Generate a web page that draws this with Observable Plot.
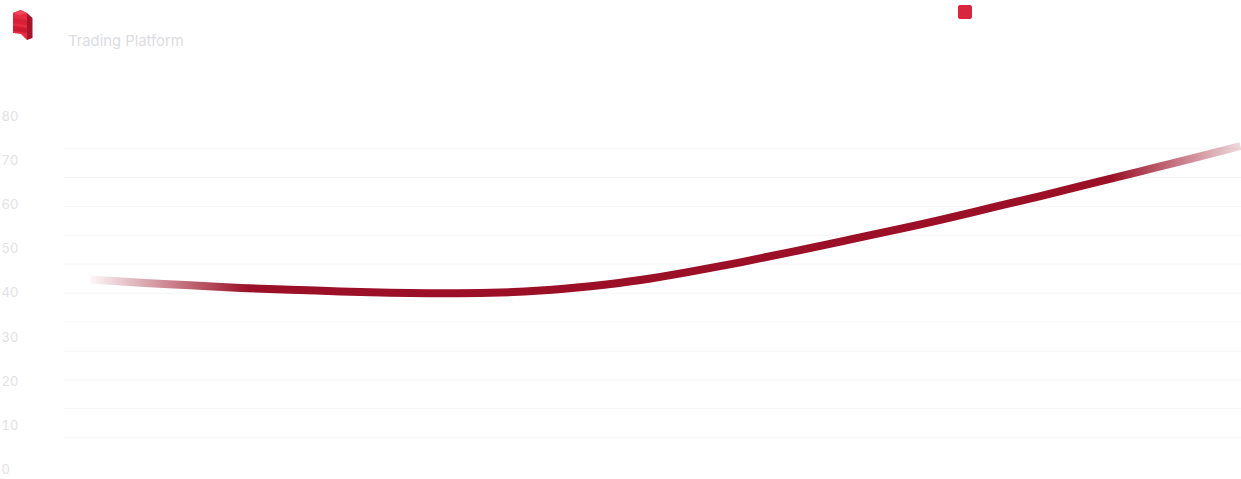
<!DOCTYPE html>
<html>
<head>
<meta charset="utf-8">
<script src="https://cdn.jsdelivr.net/npm/d3@7"></script>
<script src="https://cdn.jsdelivr.net/npm/@observablehq/plot@0.6"></script>
<style>
  html, body { margin: 0; padding: 0; background: #fff; overflow: hidden; }
  #wrap { position: relative; width: 1241px; height: 479px; font-family: Inter, "Noto Sans", sans-serif; }
  #logo { position: absolute; left: 12px; top: 9px; }
  #title { position: absolute; left: 68px; top: 32px; font-size: 14.8px; color: #dcdce2; }
  #legend { position: absolute; left: 958px; top: 5px; width: 14px; height: 14px; border-radius: 2px; background: #d7263d; }
  #chart { position: absolute; left: 0; top: 0; }
</style>
</head>
<body>
<div id="wrap">
  <div id="chart"></div>
  <svg id="logo" width="24" height="34" viewBox="0 0 24 34">
    <polygon points="1,4 8.5,1 15,4 15,31 9,25 1,24" fill="#e62a40"/>
    <polygon points="1,9 15,11 15,16 1,14" fill="#d71f36"/>
    <polygon points="1,17 15,19 15,24 1,22" fill="#cc1a31"/>
    <polygon points="15,4 20.5,9 20.5,29 15,31" fill="#a9132a"/>
    <polygon points="1,4 8.5,1 15,4 8,6.5" fill="#f0455a"/>
  </svg>
  <div id="title">Trading Platform</div>
  <div id="legend"></div>
</div>
<script>
// Data
const steps  = [0,1,2,3,4,5,6,7,8,9,10,11,12,13,14,15,16,17,18,19,20,21,22,23];
const values = [43.1,42.4,41.8,41.2,40.8,40.4,40.1,40.0,40.1,40.6,41.6,43.0,44.9,47.0,49.3,51.7,54.1,56.6,59.3,62.0,64.8,67.6,70.4,73.3];
const yTicks = [0,10,20,30,40,50,60,70,80];
const gridValues = [7.3,13.9,20.4,26.9,33.5,40.0,46.6,53.1,59.6,66.2,72.7];

const data = steps.map((s, i) => ({step: s, value: values[i]}));

const gradientDefs = () => {
  const defs = d3.create("svg:defs");
  const g = defs.append("linearGradient")
    .attr("id", "lineGrad")
    .attr("gradientUnits", "userSpaceOnUse")
    .attr("x1", 0).attr("x2", 1241).attr("y1", 0).attr("y2", 0);
  [[0, 0], [0.068, 0], [0.2, 1], [0.895, 1], [1, 0.15]].forEach(([o, a]) => {
    g.append("stop").attr("offset", o).attr("stop-color", "#9b1027").attr("stop-opacity", a);
  });
  return defs.node();
};

const chart = Plot.plot({
  width: 1241,
  height: 479,
  marginLeft: 64,
  marginRight: 0,
  marginTop: 116,
  marginBottom: 10,
  style: {fontFamily: "Inter, 'Noto Sans', sans-serif", background: "transparent"},
  x: {domain: [0, 23], range: [90, 1240], axis: null},
  y: {domain: [0, 80], range: [469.5, 116], axis: null},
  marks: [
    gradientDefs,
    Plot.ruleY(gridValues, {stroke: "#f6f6f7", strokeWidth: 1}),
    Plot.axisY(yTicks, {anchor: "left", tickSize: 0, tickPadding: 63, textAnchor: "start", fill: "#e2e2e4", fontSize: 13, label: null}),
    Plot.line(data, {x: "step", y: "value", curve: "natural", stroke: "url(#lineGrad)", strokeWidth: 8, strokeLinecap: "butt"})
  ]
});
document.getElementById("chart").appendChild(chart);
</script>
</body>
</html>
